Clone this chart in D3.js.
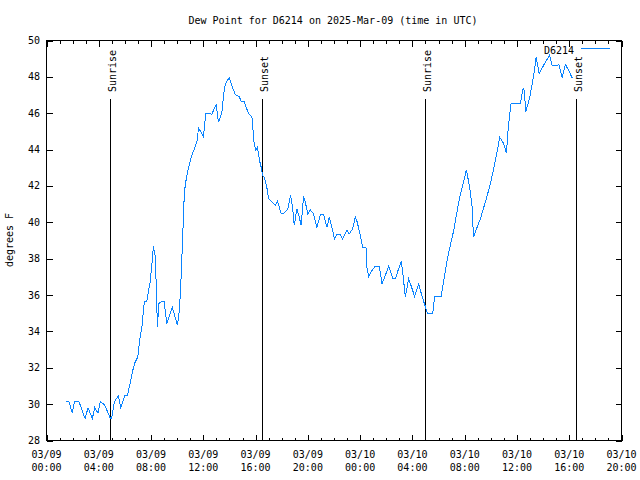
<!DOCTYPE html>
<html><head><meta charset="utf-8">
<script src="https://cdn.jsdelivr.net/npm/d3@7"></script>
<style>
body{margin:0;background:#fff;}
text{font-family:"DejaVu Sans Mono",monospace;font-size:10px;fill:#000;}
</style></head>
<body><svg id="c" width="640" height="480"></svg>
<script>
// hours since 2025-03-09 00:00 UTC
const hours = [1.49,1.72,1.98,2.13,2.49,2.95,3.18,3.51,3.69,3.94,4.12,4.43,4.89,4.99,5.19,5.50,5.68,6.01,6.19,6.40,6.60,6.78,6.98,7.16,7.31,7.49,7.67,7.93,8.08,8.18,8.33,8.49,8.59,8.69,9.00,9.21,9.63,10.02,10.17,10.28,10.41,10.55,10.71,10.91,11.12,11.32,11.53,11.63,11.83,12.01,12.19,12.50,12.65,12.85,12.98,13.16,13.42,13.62,13.80,13.98,14.18,14.44,14.74,14.90,15.13,15.26,15.46,15.72,15.89,16.02,16.14,16.30,16.43,16.53,16.68,16.86,16.99,17.19,17.50,17.68,17.96,18.14,18.47,18.67,18.83,18.96,19.16,19.34,19.49,19.67,19.80,20.00,20.18,20.43,20.69,20.97,21.20,21.46,21.64,21.84,22.04,22.23,22.48,22.65,22.99,23.17,23.42,23.63,23.78,24.01,24.19,24.45,24.52,24.65,24.91,25.16,25.47,25.67,25.93,26.18,26.51,26.69,26.90,27.15,27.28,27.46,27.71,27.92,28.17,28.48,28.74,28.99,29.16,29.55,29.70,30.19,30.44,30.65,30.90,31.16,31.36,31.62,31.88,32.13,32.38,32.57,32.64,32.69,32.95,33.20,33.58,33.97,34.27,34.53,34.68,34.99,35.19,35.35,35.55,36.26,36.47,36.57,36.67,36.98,37.28,37.47,37.70,38.10,38.49,38.69,39.07,39.20,39.46,39.71,39.96,40.22];
const dewPoint = [30.13,30.13,29.50,30.13,30.13,29.21,29.80,29.21,29.80,29.50,30.13,29.98,29.21,29.23,30.13,30.46,29.83,30.49,30.49,31.12,31.85,32.31,32.58,33.68,34.33,35.66,35.66,36.71,37.81,38.67,38.08,34.23,35.52,35.61,35.65,34.42,35.33,34.33,35.15,36.62,39.00,41.66,42.48,43.13,43.68,44.05,44.50,45.18,44.96,44.72,46.00,46.00,45.93,46.30,46.48,45.51,46.06,47.43,47.76,47.95,47.53,47.03,46.92,46.66,46.66,46.37,45.97,45.78,44.32,43.95,44.13,43.40,43.03,42.58,42.45,41.93,41.29,41.18,40.93,41.16,40.47,40.47,40.74,41.48,40.83,39.83,40.74,40.28,39.83,41.42,41.11,40.47,40.69,40.47,39.73,40.43,40.43,39.73,40.28,39.73,39.09,39.33,39.33,39.09,39.55,39.37,39.64,40.28,40.01,39.28,38.63,38.60,37.53,37.02,37.35,37.59,37.59,36.62,37.08,37.59,36.89,36.89,37.35,37.86,37.08,35.92,36.87,36.47,35.92,36.62,35.92,35.37,34.97,34.97,35.92,35.92,36.98,37.90,38.73,39.55,40.38,41.38,42.12,42.89,41.93,40.83,39.73,39.18,39.73,40.19,41.11,42.12,43.13,44.04,44.68,44.32,43.80,45.33,46.55,46.55,47.35,47.25,46.06,46.88,48.08,49.08,48.17,48.72,49.18,48.63,48.63,48.68,47.98,48.68,48.35,47.95];
const sunEvents = [{label:"Sunrise",h:4.88},{label:"Sunset",h:16.48},{label:"Sunrise",h:28.93},{label:"Sunset",h:40.52}];
const yTicks = [28,30,32,34,36,38,40,42,44,46,48,50];
const xTickHours = [0,4,8,12,16,20,24,28,32,36,40,44];
const titleText = "Dew Point for D6214 on 2025-Mar-09 (time in UTC)";
const seriesName = "D6214";
const yLabel = "degrees F";

const t0 = Date.UTC(2025,2,9,0,0);
const toDate = h => new Date(t0 + h*3600000);
const svg = d3.select("#c");
const L=46.5, R=621.5, T=40.5, B=440.5;
const x = d3.scaleUtc().domain([toDate(0),toDate(44)]).range([L,R]);
const y = d3.scaleLinear().domain([28,50]).range([B,T]);
const lineColor = "#0a84ff";

// border
svg.append("rect").attr("x",L).attr("y",T).attr("width",R-L).attr("height",B-T)
  .attr("fill","none").attr("stroke","#000").attr("stroke-width",1);

const g = svg.append("g").attr("shape-rendering","crispEdges");
// x ticks: minor every hour, major every 4h, bottom and top
for(let h=0;h<=44;h++){
  const xp = Math.round(x(toDate(h)))+0.5;
  const len = (h%4===0)?6:3;
  g.append("line").attr("x1",xp).attr("x2",xp).attr("y1",B).attr("y2",B-len).attr("stroke","#000");
  g.append("line").attr("x1",xp).attr("x2",xp).attr("y1",T).attr("y2",T+len).attr("stroke","#000");
}
yTicks.forEach(v=>{
  const yp = Math.round(y(v))+0.5;
  g.append("line").attr("x1",L).attr("x2",L+6).attr("y1",yp).attr("y2",yp).attr("stroke","#000");
  g.append("line").attr("x1",R).attr("x2",R-6).attr("y1",yp).attr("y2",yp).attr("stroke","#000");
  svg.append("text").attr("x",40).attr("y",y(v)+3.5).attr("text-anchor","end").text(v);
});
const fmtD = d3.utcFormat("%m/%d"), fmtT = d3.utcFormat("%H:%M");
xTickHours.forEach(h=>{
  const d = toDate(h);
  const t = svg.append("text").attr("text-anchor","middle");
  t.append("tspan").attr("x",x(d)).attr("y",458).text(fmtD(d));
  t.append("tspan").attr("x",x(d)).attr("y",471).text(fmtT(d));
});

// sun events
sunEvents.forEach(e=>{
  const xp = Math.round(x(toDate(e.h)))+0.5;
  g.append("line").attr("x1",xp).attr("x2",xp).attr("y1",99).attr("y2",B).attr("stroke","#000");
  svg.append("text").attr("transform",`translate(${xp+5},92) rotate(-90)`)
    .attr("text-anchor","start").attr("x",0).attr("y",0).text(e.label);
});

// data line
const data = hours.map((h,i)=>({d:toDate(h),v:dewPoint[i]}));
svg.append("path").datum(data)
  .attr("fill","none").attr("stroke",lineColor).attr("stroke-width",1)
  .attr("shape-rendering","crispEdges")
  .attr("d",d3.line().x(p=>x(p.d)).y(p=>y(p.v)));

// title, labels, legend
svg.append("text").attr("x",333).attr("y",24).attr("text-anchor","middle").text(titleText);
svg.append("text").attr("transform","translate(13,240) rotate(-90)").attr("text-anchor","middle").text(yLabel);
svg.append("text").attr("x",574).attr("y",54).attr("text-anchor","end").text(seriesName);
svg.append("line").attr("x1",581).attr("x2",610).attr("y1",48.5).attr("y2",48.5).attr("stroke",lineColor).attr("shape-rendering","crispEdges");
</script></body></html>
